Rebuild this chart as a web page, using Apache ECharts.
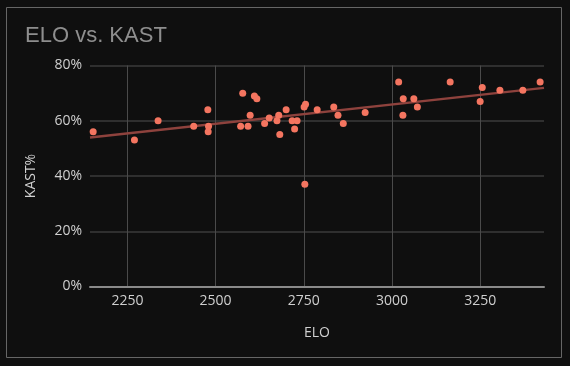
<!DOCTYPE html>
<html>
<head>
<meta charset="utf-8">
<script src="https://cdn.jsdelivr.net/npm/echarts@6/dist/echarts.min.js"></script>
<style>
html,body{margin:0;padding:0;background:#0f0f0f;}
#c{width:570px;height:366px;}
</style>
</head>
<body>
<div id="c"></div>
<script>
// Data
const elo  = [2153,2270,2337,2438,2478,2480,2479,2571,2577,2592,2598,2610,2617,2639,2652,2674,2679,2682,2700,2717,2724,2731,2751,2755,2753,2788,2835,2847,2862,2924,3019,3032,3031,3062,3072,3165,3250,3256,3306,3371,3420];
const kast = [56,53,60,58,64,58,56,58,70,58,62,69,68,59,61,60,62,55,64,60,57,60,65,66,37,64,65,62,59,63,74,68,62,68,65,74,67,72,71,71,74];
const trendElo  = [2144, 3431];
const trendKast = [53.9, 71.9];
const yTicks = [0,20,40,60,80];

const points = elo.map((e,i)=>[e,kast[i]]);
const trend = trendElo.map((e,i)=>[e,trendKast[i]]);

const chart = echarts.init(document.getElementById('c'), null, {renderer:'canvas'});
chart.setOption({
  backgroundColor:'#0f0f0f',
  animation:false,
  title:{text:'ELO vs. KAST', left:20, top:20,
    textStyle:{color:'#8e8e8e', fontSize:22, fontWeight:'normal', fontFamily:'Liberation Sans'}},
  graphic:[{type:'rect', shape:{x:6.5,y:7.5,width:555,height:350},
    style:{fill:'none', stroke:'#666', lineWidth:1}, silent:true, z:-1}],
  grid:{left:90, right:26, top:65.5, bottom:79.5},
  xAxis:{type:'value', min:2144, max:3431, minInterval:250, maxInterval:250,
    name:'ELO', nameLocation:'middle', nameGap:40,
    nameTextStyle:{color:'#d0d0d0', fontSize:14, fontFamily:'Open Sans'},
    axisLine:{show:true, onZero:false, lineStyle:{color:'#8a8a8a', width:2}},
    axisTick:{show:false},
    axisLabel:{color:'#cfcfcf', fontSize:14, fontFamily:'Open Sans', margin:8, showMinLabel:false, showMaxLabel:false,
      formatter:v=>String(v)},
    splitLine:{show:true, showMinLine:false, showMaxLine:false, lineStyle:{color:'#4a4a4a', width:1}}},
  yAxis:{type:'value', min:yTicks[0], max:yTicks[yTicks.length-1], interval:20,
    name:'KAST%', nameLocation:'middle', nameGap:52,
    nameTextStyle:{color:'#d0d0d0', fontSize:14, fontFamily:'Open Sans'},
    axisLine:{show:false}, axisTick:{show:false},
    axisLabel:{color:'#cfcfcf', fontSize:14, fontFamily:'Open Sans', margin:8, formatter:'{value}%'},
    splitLine:{show:true, lineStyle:{color:'#2f2f2f', width:2}}},
  series:[
    {type:'line', data:trend, symbol:'none', z:2, silent:true,
      lineStyle:{color:'#8e423d', width:2.5}},
    {type:'scatter', data:points, symbolSize:7, z:3,
      itemStyle:{color:'#f47560', opacity:1}}
  ]
});
</script>
</body>
</html>
